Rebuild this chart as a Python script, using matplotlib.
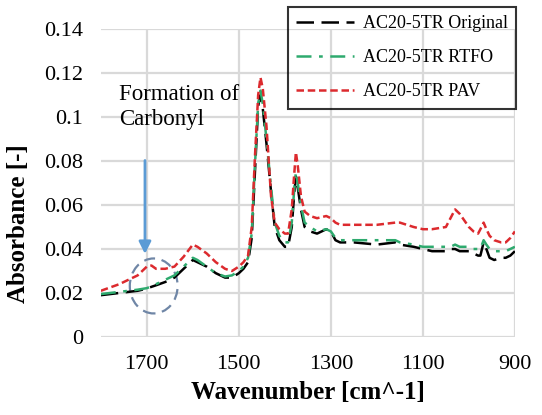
import matplotlib
matplotlib.use('Agg')
import matplotlib.pyplot as plt
from matplotlib.patches import Ellipse

plt.rcParams['font.family'] = 'Liberation Serif'

# FTIR spectra, wavenumber in cm^-1
wavenumber = [1800, 1780, 1760, 1740, 1720, 1700, 1690, 1680, 1660, 1640, 1620, 1600, 1590, 1570,
              1550, 1530, 1515, 1500, 1490, 1480, 1472, 1465, 1458, 1453, 1448, 1440, 1430, 1422,
              1412, 1400, 1393, 1385, 1380, 1376, 1372, 1365, 1357, 1345, 1330, 1310, 1300, 1290,
              1280, 1250, 1200, 1160, 1150, 1120, 1100, 1080, 1050, 1040, 1030, 1020, 1000, 990,
              980, 975, 968, 962, 955, 945, 930, 920, 910, 900]

original = [0.019, 0.0195, 0.020, 0.0205, 0.021, 0.022, 0.0228, 0.0235, 0.025, 0.027, 0.031, 0.035,
            0.034, 0.032, 0.029, 0.027, 0.027, 0.029, 0.031, 0.034, 0.045, 0.075, 0.105, 0.110,
            0.104, 0.088, 0.066, 0.050, 0.044, 0.041, 0.041, 0.050, 0.064, 0.073, 0.068, 0.058,
            0.050, 0.048, 0.047, 0.049, 0.048, 0.044, 0.043, 0.043, 0.042, 0.043, 0.042, 0.041,
            0.040, 0.039, 0.039, 0.040, 0.040, 0.039, 0.039, 0.038, 0.037, 0.037, 0.043, 0.040,
            0.036, 0.035, 0.036, 0.036, 0.037, 0.039]

rtfo = [0.0195, 0.020, 0.0205, 0.021, 0.0215, 0.0222, 0.023, 0.024, 0.026, 0.028, 0.032, 0.036,
        0.035, 0.032, 0.029, 0.0275, 0.028, 0.030, 0.032, 0.036, 0.047, 0.078, 0.106, 0.112,
        0.106, 0.090, 0.068, 0.052, 0.046, 0.043, 0.043, 0.052, 0.066, 0.075, 0.070, 0.060,
        0.052, 0.050, 0.048, 0.049, 0.048, 0.045, 0.044, 0.044, 0.044, 0.044, 0.043, 0.042,
        0.041, 0.041, 0.041, 0.041, 0.042, 0.041, 0.041, 0.040, 0.040, 0.040, 0.044, 0.042,
        0.040, 0.039, 0.039, 0.039, 0.040, 0.041]

pav = [0.021, 0.0225, 0.024, 0.026, 0.028, 0.032, 0.0325, 0.031, 0.031, 0.032, 0.0365, 0.042,
       0.041, 0.038, 0.034, 0.031, 0.030, 0.032, 0.034, 0.037, 0.050, 0.082, 0.110, 0.118,
       0.113, 0.096, 0.064, 0.052, 0.049, 0.047, 0.047, 0.058, 0.073, 0.084, 0.078, 0.064,
       0.057, 0.055, 0.054, 0.055, 0.054, 0.052, 0.051, 0.051, 0.051, 0.052, 0.052, 0.050,
       0.049, 0.049, 0.050, 0.054, 0.058, 0.056, 0.050, 0.048, 0.047, 0.049, 0.052, 0.049,
       0.046, 0.044, 0.043, 0.043, 0.045, 0.048]

labels = ['AC20-5TR Original', 'AC20-5TR RTFO', 'AC20-5TR PAV']
x_ticks = [1700, 1500, 1300, 1100, 900]
y_ticks = [0, 0.02, 0.04, 0.06, 0.08, 0.1, 0.12, 0.14]

fig = plt.figure(figsize=(5.42, 4.15), dpi=100)
ax = fig.add_axes([0.186, 0.188, 0.764, 0.742])

ax.plot(wavenumber, original, color='black', lw=1.8, dashes=(7, 3), label=labels[0])
ax.plot(wavenumber, rtfo, color='#2eaa6e', lw=1.8, dashes=(6, 3, 1.5, 3), label=labels[1])
ax.plot(wavenumber, pav, color='#dc2a2e', lw=1.8, dashes=(3, 1.5), label=labels[2])

ax.set_xlim(1800, 900)
ax.set_ylim(0, 0.14)
ax.set_xticks(x_ticks)
ax.set_yticks(y_ticks)
ax.set_yticklabels(['0', '0.02', '0.04', '0.06', '0.08', '0.1', '0.12', '0.14'])
ax.tick_params(length=0, labelsize=16, pad=13)
for s in ax.spines.values():
    s.set_visible(False)
ax.grid(True, color='#d9d9d9', lw=1.6)
ax.set_axisbelow(True)

ax.set_xlabel('Wavenumber [cm^-1]', fontsize=18, fontweight='bold', labelpad=5)
ax.set_ylabel('Absorbance [-]', fontsize=18, fontweight='bold')
ax.yaxis.set_label_coords(-0.172, 0.367)

# carbonyl region marker
ax.add_patch(Ellipse((1685, 0.0232), width=104, height=0.025, fill=False,
                     ls=(0, (5, 3)), ec='#6f86a6', lw=1.6))
ax.annotate('', xy=(1704, 0.0365), xytext=(1704, 0.0815),
            arrowprops=dict(arrowstyle='-|>', color='#5b9bd5', lw=2, mutation_scale=18))
ax.text(1760, 0.1152, 'Formation of\nCarbonyl', ha='left', va='top', fontsize=16.5,
        linespacing=1.25)

leg = ax.legend(loc='upper right', bbox_to_anchor=(0.952, 0.983),
                bbox_transform=fig.transFigure, borderaxespad=0, fontsize=13, frameon=True,
                fancybox=False, handlelength=3.2, handletextpad=0.5, borderpad=0.45,
                labelspacing=0.95)
leg.get_frame().set_edgecolor('black')
leg.get_frame().set_linewidth(1.5)
leg.get_frame().set_facecolor('none')

fig.savefig('out.png', dpi=100)
